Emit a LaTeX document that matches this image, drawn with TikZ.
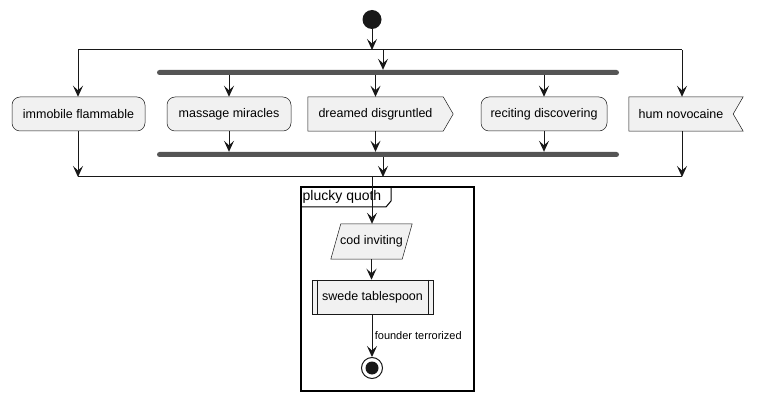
\documentclass[tikz,border=0pt]{standalone}
\usepackage{fontspec}
\setmainfont{Liberation Sans}
\usetikzlibrary{positioning, shapes, arrows.meta}

\definecolor{nodefill}{HTML}{F1F1F1}
\definecolor{nodeline}{HTML}{181818}
\definecolor{bargrey}{HTML}{555555}

\begin{document}
\begin{tikzpicture}[x=1pt, y=-1pt,
    action/.style={draw=nodeline, fill=nodefill, line width=0.5pt, rounded corners=8pt, minimum height=34pt, inner sep=0pt, font=\fontsize{12.5}{15}\selectfont},
    plain/.style={minimum height=34pt, inner sep=0pt, font=\fontsize{12.5}{15}\selectfont},
    outline/.style={draw=nodeline, fill=nodefill, line width=0.5pt},
    bar/.style={fill=bargrey, rounded corners=2.5pt, minimum width=462pt, minimum height=5pt, inner sep=0pt},
    arrow/.style={-{Stealth[length=11pt, width=10pt, inset=4.5pt]}, line width=1pt, draw=nodeline}]

    \useasboundingbox (0,0) rectangle (764,401);

    % Partition
    \draw[line width=1.5pt] (301,187) rectangle (474,391);
    \node[anchor=west, inner sep=1pt, font=\fontsize{14}{16}\selectfont] (partlabel) at (301.5,197) {plucky quoth};
    \draw[line width=1pt] (301,207) -- (386,207) -- (391,201) -- (391,187);

    % Nodes
    \node[circle, fill=nodeline, minimum size=19pt, inner sep=0pt] (start) at (372,19.5) {};
    \node[action, minimum width=133pt] (immobile) at (78.5,114) {immobile flammable};
    \node[bar] (fork) at (388,72.5) {};
    \node[action, minimum width=124pt] (massage) at (229,114) {massage miracles};
    \node[plain, minimum width=135pt] (dreamed) at (375.5,114) {};
    \node[action, minimum width=126pt] (reciting) at (544,114) {reciting discovering};
    \node[plain, minimum width=104pt] (hum) at (681,114) {};
    \node[bar] (join) at (388,154.5) {};
    \node[plain, minimum width=71pt, minimum height=35pt] (cod) at (371.5,241.5) {};
    \node[outline, plain, minimum width=121pt] (swede) at (372.5,297) {swede tablespoon};
    \node[circle, draw=nodeline, fill=white, line width=1pt, minimum size=21pt, inner sep=0pt] (stop) at (372,368) {};
    \node[circle, fill=nodeline, minimum size=13pt, inner sep=0pt] at (stop) {};

    % Shapes
    \draw[outline] (dreamed.north west) -- (dreamed.north east) -- ([xshift=10pt]dreamed.east) -- (dreamed.south east) -- (dreamed.south west) -- cycle;
    \node[plain] at (dreamed) {dreamed disgruntled};
    \draw[outline] (hum.north west) -- ([xshift=10pt]hum.north east) -- (hum.east) -- ([xshift=10pt]hum.south east) -- (hum.south west) -- cycle;
    \node[plain] at (hum) {hum novocaine};
    \draw[outline] ([xshift=5pt]cod.north west) -- ([xshift=5pt]cod.north east) -- ([xshift=-5pt]cod.south east) -- ([xshift=-5pt]cod.south west) -- cycle;
    \node[plain] at (cod) {cod inviting};
    \draw[nodeline, line width=0.5pt] ([xshift=5pt]swede.north west) -- ([xshift=5pt]swede.south west)
        ([xshift=-5pt]swede.north east) -- ([xshift=-5pt]swede.south east);

    % Split and merge
    \coordinate (splitL) at (78,50);
    \coordinate (splitM) at (383,50);
    \coordinate (splitR) at (682,50);
    \coordinate (mergeL) at (78,177);
    \coordinate (mergeM) at (372,177);
    \coordinate (mergeR) at (682,177);
    \draw[nodeline, line width=1pt] (splitL) -- (splitR);
    \draw[nodeline, line width=1pt] (mergeL) -- (mergeR);

    % Arrows
    \draw[arrow] (start) -- (start |- splitL);
    \draw[arrow] (splitL) -- (splitL |- immobile.north);
    \draw[arrow] (splitM) -- (splitM |- fork.north);
    \draw[arrow] (splitR) -- (splitR |- hum.north);
    \draw[arrow] (massage |- fork.south) -- (massage.north);
    \draw[arrow] (dreamed |- fork.south) -- (dreamed.north);
    \draw[arrow] (reciting |- fork.south) -- (reciting.north);
    \draw[arrow] (massage.south) -- (massage |- join.north);
    \draw[arrow] (dreamed.south) -- (dreamed |- join.north);
    \draw[arrow] (reciting.south) -- (reciting |- join.north);
    \draw[arrow] (splitM |- join.south) -- (splitM |- mergeM);
    \draw[arrow] (splitL |- immobile.south) -- (mergeL);
    \draw[arrow] (splitR |- hum.south) -- (mergeR);
    \draw[arrow] (mergeM) -- (mergeM |- cod.north);
    \draw[arrow] (cod.south) -- (cod.south |- swede.north);
    \draw[arrow] (swede.south -| stop) -- node[right, xshift=-1pt, font=\fontsize{11}{13}\selectfont] {founder terrorized} (stop.north);
\end{tikzpicture}
\end{document}
